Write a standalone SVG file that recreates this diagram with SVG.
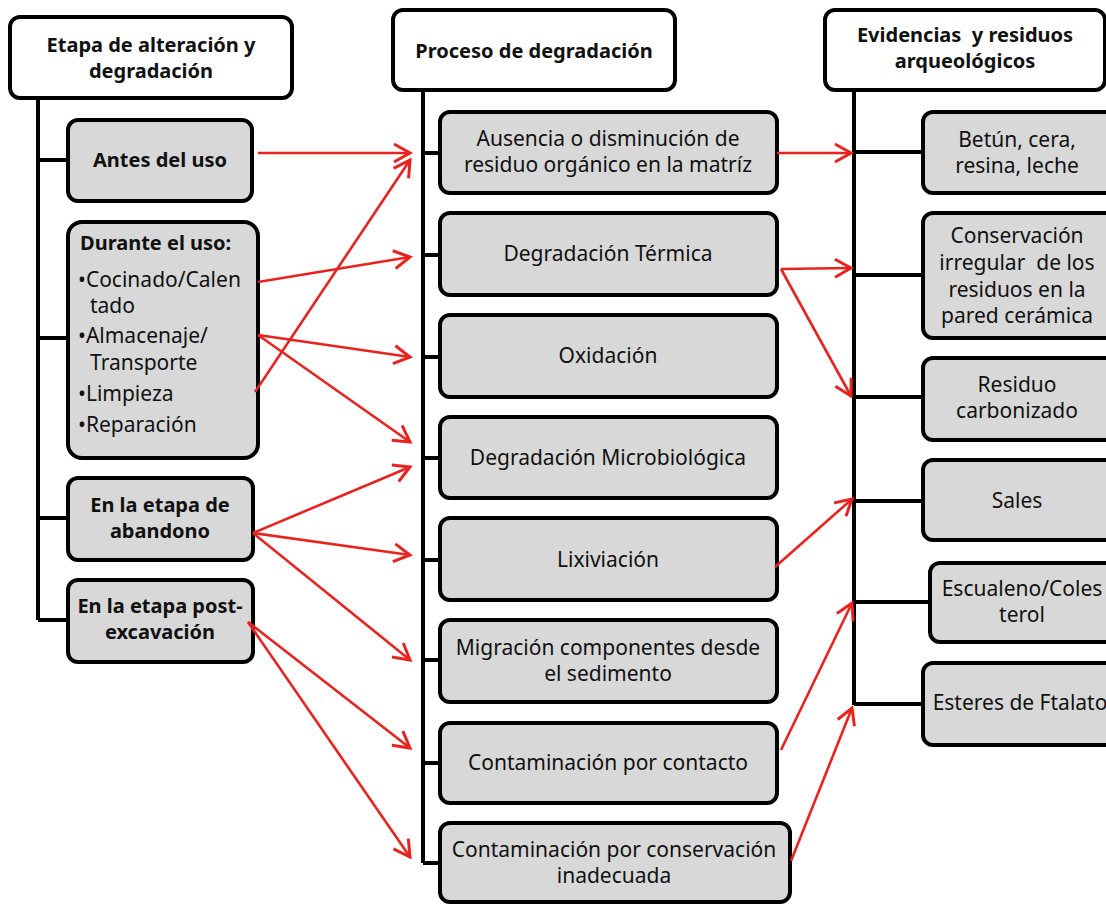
<svg xmlns="http://www.w3.org/2000/svg" width="1106" height="905" viewBox="0 0 1106 905">
<style>
.hdr{fill:#ffffff;stroke:#000;stroke-width:4}
.box{fill:#d8d8d8;stroke:#000;stroke-width:4}
.tr{fill:none;stroke:#000;stroke-width:4}
.b{font-family:"Noto Sans","Open Sans",sans-serif;font-weight:bold;font-size:20px;fill:#111;text-anchor:middle}
.t{font-family:"Noto Sans","Open Sans",sans-serif;font-size:21px;fill:#111;text-anchor:middle}
.tl{font-family:"Noto Sans","Open Sans",sans-serif;font-size:21px;fill:#111}
.bl{font-family:"Noto Sans","Open Sans",sans-serif;font-weight:bold;font-size:20px;fill:#111}
.ar{fill:none;stroke:#e8231f;stroke-width:2.6;marker-end:url(#ah)}
</style>
<defs>
<marker id="ah" viewBox="-20 -12 24 24" markerWidth="24" markerHeight="24" refX="0" refY="0" orient="auto" markerUnits="userSpaceOnUse">
<path d="M-16,-9 L0,0 L-16,9" fill="none" stroke="#e8231f" stroke-width="3"/>
</marker>
</defs>
<rect width="1106" height="905" fill="#ffffff"/>

<g id="trunks">
<path class="tr" d="M38,98 V620 M38,160 H68 M38,338 H68 M38,518 H68 M38,620 H68"/>
<path class="tr" d="M423,90 V863 M423,153 H440 M423,255 H440 M423,357 H440 M423,458 H440 M423,560 H440 M423,660 H440 M423,763 H440 M423,863 H440"/>
<path class="tr" d="M854,90 V705 M854,152 H923 M854,275 H923 M854,397 H923 M854,501 H923 M854,602 H930 M854,704 H923"/>
</g>

<g id="h-left"><rect class="hdr" x="10" y="17" width="282" height="81" rx="10"/>
<text class="b" x="151" y="52">Etapa de alteración y</text><text class="b" x="151" y="78">degradación</text></g>
<g id="h-mid"><rect class="hdr" x="393" y="10" width="282" height="80" rx="10"/>
<text class="b" x="534" y="58">Proceso de degradación</text></g>
<g id="h-right"><rect class="hdr" x="825" y="10" width="280" height="80" rx="10"/>
<text class="b" x="965" y="42" xml:space="preserve">Evidencias  y residuos</text><text class="b" x="965" y="68">arqueológicos</text></g>

<g id="l1"><rect class="box" x="68" y="120" width="184" height="81" rx="10"/><text class="b" x="160" y="167">Antes del uso</text></g>
<g id="l2"><rect class="box" x="68" y="222" width="190" height="236" rx="14"/>
<text class="bl" x="80" y="250">Durante el uso:</text>
<text class="tl" x="78" y="287">•Cocinado/Calen</text>
<text class="tl" x="90" y="313">tado</text>
<text class="tl" x="78" y="343">•Almacenaje/</text>
<text class="tl" x="90" y="370">Transporte</text>
<text class="tl" x="78" y="401">•Limpieza</text>
<text class="tl" x="78" y="432">•Reparación</text></g>
<g id="l3"><rect class="box" x="68" y="478" width="185" height="82" rx="10"/><text class="b" x="160" y="512">En la etapa de</text><text class="b" x="160" y="538">abandono</text></g>
<g id="l4"><rect class="box" x="68" y="580" width="185" height="82" rx="10"/><text class="b" x="160" y="613">En la etapa post-</text><text class="b" x="160" y="639">excavación</text></g>

<g id="m1"><rect class="box" x="440" y="112" width="337" height="81" rx="10"/><text class="t" x="608" y="146">Ausencia o disminución de</text><text class="t" x="608" y="172">residuo orgánico en la matríz</text></g>
<g id="m2"><rect class="box" x="440" y="213" width="337" height="82" rx="10"/><text class="t" x="608" y="261">Degradación Térmica</text></g>
<g id="m3"><rect class="box" x="440" y="315" width="337" height="82" rx="10"/><text class="t" x="608" y="363">Oxidación</text></g>
<g id="m4"><rect class="box" x="440" y="417" width="337" height="81" rx="10"/><text class="t" x="608" y="465">Degradación Microbiológica</text></g>
<g id="m5"><rect class="box" x="440" y="518" width="337" height="82" rx="10"/><text class="t" x="608" y="567">Lixiviación</text></g>
<g id="m6"><rect class="box" x="440" y="620" width="337" height="82" rx="10"/><text class="t" x="608" y="655">Migración componentes desde</text><text class="t" x="608" y="681">el sedimento</text></g>
<g id="m7"><rect class="box" x="440" y="723" width="337" height="80" rx="10"/><text class="t" x="608" y="770">Contaminación por contacto</text></g>
<g id="m8"><rect class="box" x="440" y="823" width="350" height="79" rx="10"/><text class="t" x="614" y="857">Contaminación por conservación</text><text class="t" x="614" y="883">inadecuada</text></g>

<g id="r1"><rect class="box" x="923" y="112" width="200" height="81" rx="10"/><text class="t" x="1017" y="147">Betún, cera,</text><text class="t" x="1017" y="173">resina, leche</text></g>
<g id="r2"><rect class="box" x="923" y="213" width="200" height="125" rx="10"/><text class="t" x="1017" y="243">Conservación</text><text class="t" x="1017" y="270" xml:space="preserve">irregular  de los</text><text class="t" x="1017" y="297">residuos en la</text><text class="t" x="1017" y="323">pared cerámica</text></g>
<g id="r3"><rect class="box" x="923" y="358" width="200" height="82" rx="10"/><text class="t" x="1017" y="392">Residuo</text><text class="t" x="1017" y="418">carbonizado</text></g>
<g id="r4"><rect class="box" x="923" y="460" width="200" height="80" rx="10"/><text class="t" x="1017" y="508">Sales</text></g>
<g id="r5"><rect class="box" x="930" y="563" width="200" height="79" rx="10"/><text class="t" x="1022" y="596">Escualeno/Coles</text><text class="t" x="1022" y="622">terol</text></g>
<g id="r6"><rect class="box" x="923" y="663" width="200" height="82" rx="10"/><text class="t" x="1020" y="710">Esteres de Ftalato</text></g>

<g id="connectors">
<line class="ar" x1="258" y1="153" x2="410" y2="153"/>
<line class="ar" x1="258" y1="282" x2="410" y2="257"/>
<line class="ar" x1="255" y1="392" x2="410" y2="160"/>
<line class="ar" x1="258" y1="335" x2="410" y2="357"/>
<line class="ar" x1="258" y1="335" x2="410" y2="442"/>
<line class="ar" x1="253" y1="533" x2="410" y2="467"/>
<line class="ar" x1="253" y1="533" x2="410" y2="555"/>
<line class="ar" x1="253" y1="533" x2="410" y2="660"/>
<line class="ar" x1="248" y1="622" x2="410" y2="748"/>
<line class="ar" x1="248" y1="622" x2="410" y2="857"/>
<line class="ar" x1="777" y1="153" x2="851" y2="153"/>
<line class="ar" x1="781" y1="269" x2="851" y2="268"/>
<line class="ar" x1="781" y1="269" x2="851" y2="396"/>
<line class="ar" x1="775" y1="567" x2="852" y2="499"/>
<line class="ar" x1="781" y1="750" x2="852" y2="603"/>
<line class="ar" x1="791" y1="861" x2="852" y2="708"/>
</g>
</svg>
